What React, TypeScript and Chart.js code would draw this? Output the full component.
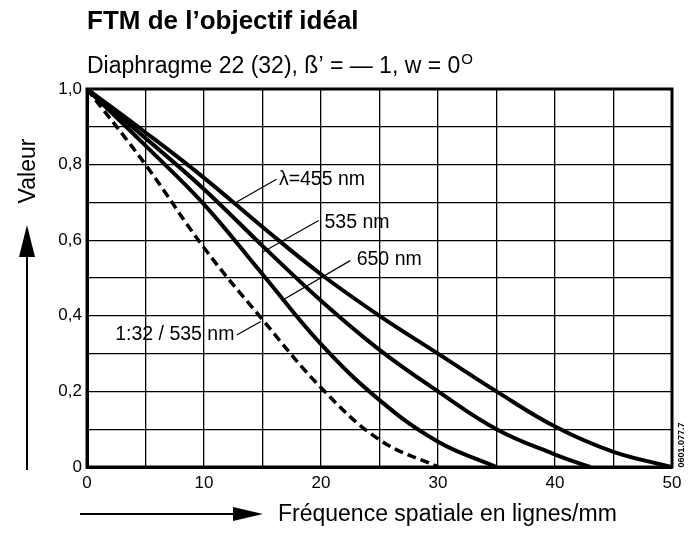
import React, { useEffect, useRef } from 'react';
import { Chart, registerables } from 'chart.js';

Chart.register(...registerables);

// ---- Data ----
const FREQ_455 = [0, 5, 10, 15, 20, 25, 30, 35, 40, 45, 50];
const MTF_455 = [1, 0.885, 0.765, 0.635, 0.51, 0.4, 0.3, 0.2, 0.107, 0.04, 0];

const FREQ_535 = [0, 5, 10, 15, 20, 25, 30, 35, 40, 43];
const MTF_535 = [1, 0.87, 0.735, 0.585, 0.44, 0.31, 0.2, 0.1, 0.033, 0];

const FREQ_650 = [0, 5, 10, 15, 20, 25, 30, 35];
const MTF_650 = [1, 0.85, 0.695, 0.51, 0.325, 0.177, 0.067, 0];

const FREQ_DASH = [0, 5, 10, 15, 20, 25, 30];
const MTF_DASH = [1, 0.8, 0.58, 0.39, 0.21, 0.072, 0];

const X_TICK_LABELS = ['0', '10', '20', '30', '40', '50'];
const Y_TICK_LABELS = ['0', '0,2', '0,4', '0,6', '0,8', '1,0'];

const CURVE_LABELS = ['λ=455 nm', '535 nm', '650 nm', '1:32 / 535 nm'];
const LABEL_ANCHOR_X = [16.4, 20.3, 23.05, 12.6];
const LABEL_ANCHOR_Y = [0.761, 0.647, 0.549, 0.349];
const LABEL_ALIGN = ['left', 'left', 'left', 'right'];
const LEADER_X1 = [12.6, 15.0, 16.7, 14.85];
const LEADER_Y1 = [0.698, 0.568, 0.441, 0.385];
const LEADER_X2 = [16.2, 19.8, 22.5, 12.8];
const LEADER_Y2 = [0.761, 0.652, 0.546, 0.349];

const TITLE = 'FTM de l’objectif idéal';
const SUBTITLE = 'Diaphragme 22 (32), ß’ = — 1, w = 0';
const SUBTITLE_SUP = 'O';
const Y_TITLE = 'Valeur';
const X_TITLE = 'Fréquence spatiale en lignes/mm';
const CODE_TEXT = '0601.077.7';

const FONT = "'Liberation Sans', Arial, Helvetica, sans-serif";

const toPoints = (xs: number[], ys: number[]) => xs.map((x, i) => ({ x, y: ys[i] }));

const decorPlugin = {
  id: 'decor',
  beforeDatasetsDraw(chart: any) {
    const { ctx, chartArea: a } = chart;
    ctx.save();
    ctx.strokeStyle = '#000';
    ctx.lineWidth = 3;
    ctx.strokeRect(a.left, a.top, a.right - a.left, a.bottom - a.top);
    ctx.restore();
  },
  afterDraw(chart: any) {
    const { ctx, chartArea: a, scales } = chart;
    const xs = scales.x;
    const ys = scales.y;
    ctx.save();
    ctx.fillStyle = '#000';
    ctx.strokeStyle = '#000';

    // Title
    ctx.textBaseline = 'alphabetic';
    ctx.textAlign = 'left';
    ctx.font = `bold 26px ${FONT}`;
    ctx.fillText(TITLE, a.left, 29);

    // Subtitle with superscript
    ctx.font = `23px ${FONT}`;
    ctx.fillText(SUBTITLE, a.left, 73);
    const w = ctx.measureText(SUBTITLE).width;
    ctx.font = `15px ${FONT}`;
    ctx.fillText(SUBTITLE_SUP, a.left + w + 1, 64);

    // Y title rotated + arrow
    ctx.save();
    ctx.translate(29, 171);
    ctx.rotate(-Math.PI / 2);
    ctx.font = `23px ${FONT}`;
    ctx.textAlign = 'center';
    ctx.textBaseline = 'middle';
    ctx.fillText(Y_TITLE, 0, 0);
    ctx.restore();

    ctx.lineWidth = 2;
    ctx.beginPath();
    ctx.moveTo(27, 470);
    ctx.lineTo(27, 250);
    ctx.stroke();
    ctx.beginPath();
    ctx.moveTo(27, 225);
    ctx.lineTo(19, 257);
    ctx.lineTo(35, 257);
    ctx.closePath();
    ctx.fill();

    // X title + arrow
    ctx.beginPath();
    ctx.moveTo(80, 514);
    ctx.lineTo(240, 514);
    ctx.stroke();
    ctx.beginPath();
    ctx.moveTo(263, 514);
    ctx.lineTo(233, 507);
    ctx.lineTo(233, 521);
    ctx.closePath();
    ctx.fill();
    ctx.font = `23px ${FONT}`;
    ctx.textAlign = 'left';
    ctx.textBaseline = 'middle';
    ctx.fillText(X_TITLE, 278, 515);

    // Curve labels with leader lines
    ctx.lineWidth = 1.2;
    ctx.font = `19.5px ${FONT}`;
    ctx.textBaseline = 'middle';
    CURVE_LABELS.forEach((t, i) => {
      ctx.beginPath();
      ctx.moveTo(xs.getPixelForValue(LEADER_X1[i]), ys.getPixelForValue(LEADER_Y1[i]));
      ctx.lineTo(xs.getPixelForValue(LEADER_X2[i]), ys.getPixelForValue(LEADER_Y2[i]));
      ctx.stroke();
      ctx.textAlign = LABEL_ALIGN[i] as CanvasTextAlign;
      ctx.fillText(t, xs.getPixelForValue(LABEL_ANCHOR_X[i]), ys.getPixelForValue(LABEL_ANCHOR_Y[i]));
    });

    // Reference code rotated
    ctx.save();
    ctx.translate(a.right + 10, a.bottom - 22);
    ctx.rotate(-Math.PI / 2);
    ctx.font = `bold 9px ${FONT}`;
    ctx.textAlign = 'center';
    ctx.textBaseline = 'middle';
    ctx.fillText(CODE_TEXT, 0, 0);
    ctx.restore();

    ctx.restore();
  },
};

export default function App() {
  const ref = useRef<HTMLCanvasElement | null>(null);

  useEffect(() => {
    if (!ref.current) return;
    const solid = { borderColor: '#000', borderWidth: 4, pointRadius: 0, fill: false, tension: 0.4 };
    const chart = new Chart(ref.current, {
      type: 'line',
      data: {
        datasets: [
          { label: 'λ=455 nm', data: toPoints(FREQ_455, MTF_455), ...solid },
          { label: '535 nm', data: toPoints(FREQ_535, MTF_535), ...solid },
          { label: '650 nm', data: toPoints(FREQ_650, MTF_650), ...solid },
          { label: '1:32 / 535 nm', data: toPoints(FREQ_DASH, MTF_DASH), ...solid, borderWidth: 3.5, borderDash: [9, 5] },
        ],
      },
      options: {
        animation: false,
        responsive: false,
        maintainAspectRatio: false,
        devicePixelRatio: 1,
        layout: { padding: { top: 89, right: 21, bottom: 39, left: 0 } },
        plugins: { legend: { display: false }, tooltip: { enabled: false }, title: { display: false } },
        scales: {
          x: {
            type: 'linear',
            min: 0,
            max: 50,
            afterFit: (s: any) => { s.height = 30; },
            ticks: {
              stepSize: 5,
              color: '#000',
              padding: 6,
              maxRotation: 0,
              font: { family: FONT, size: 17 },
              callback: (v: any) => {
                const idx = X_TICK_LABELS.indexOf(String(v));
                return idx >= 0 ? X_TICK_LABELS[idx] : '';
              },
            },
            grid: { color: '#000', lineWidth: 1.3, drawTicks: false },
            border: { color: '#000', width: 3 },
          },
          y: {
            type: 'linear',
            min: 0,
            max: 1,
            afterFit: (s: any) => { s.width = 87; },
            ticks: {
              stepSize: 0.1,
              color: '#000',
              padding: 5,
              font: { family: FONT, size: 17 },
              callback: (v: any) => {
                const k = Math.round(Number(v) * 10);
                return k % 2 === 0 ? Y_TICK_LABELS[k / 2] : '';
              },
            },
            grid: { color: '#000', lineWidth: 1.3, drawTicks: false },
            border: { color: '#000', width: 3 },
          },
        },
      },
      plugins: [decorPlugin],
    });
    return () => chart.destroy();
  }, []);

  return (
    <div style={{ position: 'absolute', left: 0, top: 0, width: 693, height: 536, background: '#fff' }}>
      <canvas ref={ref} width={693} height={536} style={{ display: 'block' }} />
    </div>
  );
}
